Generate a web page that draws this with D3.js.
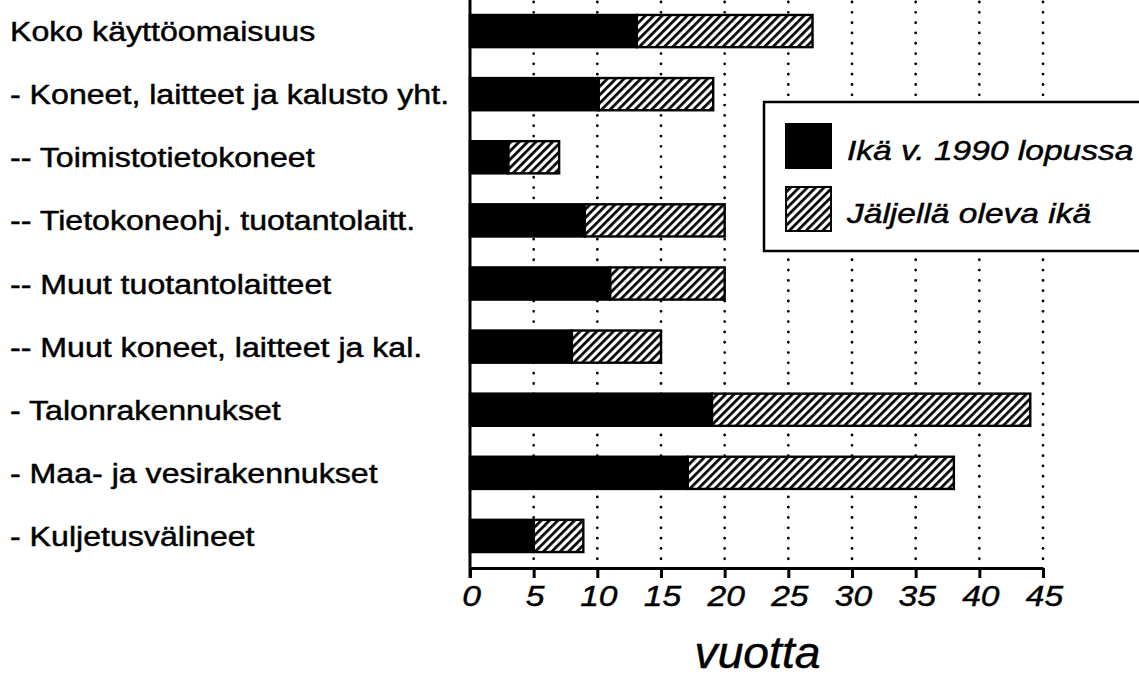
<!DOCTYPE html>
<html>
<head>
<meta charset="utf-8">
<script src="https://cdn.jsdelivr.net/npm/d3@7"></script>
<style>
  html, body { margin: 0; padding: 0; background: #fff; overflow: hidden; }
  svg { display: block; }
  text { font-family: "Liberation Sans", Arial, Helvetica, sans-serif; fill: #000; stroke: #000; stroke-width: 0.45px; }
</style>
</head>
<body>
<svg id="chart" width="1139" height="677"></svg>
<script>
// ---- data ----
const categories = [
  "Koko käyttöomaisuus",
  "- Koneet, laitteet ja kalusto yht.",
  "-- Toimistotietokoneet",
  "-- Tietokoneohj. tuotantolaitt.",
  "-- Muut tuotantolaitteet",
  "-- Muut koneet, laitteet ja kal.",
  "- Talonrakennukset",
  "- Maa- ja vesirakennukset",
  "- Kuljetusvälineet"
];
const ageEnd1990 = [13.1, 10.1, 3.0, 9.0, 11.0, 8.0, 19.0, 17.1, 5.0];
const remainingAge = [13.8, 9.0, 4.0, 11.0, 9.0, 7.0, 25.0, 20.9, 3.9];
const seriesNames = ["Ikä v. 1990 lopussa", "Jäljellä oleva ikä"];
const tickValues = [0, 5, 10, 15, 20, 25, 30, 35, 40, 45];
const axisTitle = "vuotta";

// ---- layout ----
const svg = d3.select("#chart");
const SX = 1.19; // horizontal stretch of the original lettering

const x = d3.scaleLinear().domain([0, 45]).range([470, 1043]);
const y = d3.scaleBand().domain(categories).range([-0.5, 567.5])
  .paddingInner(0.49).paddingOuter(0.245);
const axisY = 568;

// hatch pattern
const defs = svg.append("defs");
const pat = defs.append("pattern")
  .attr("id", "hatch")
  .attr("patternUnits", "userSpaceOnUse")
  .attr("width", 5.9).attr("height", 5.9)
  .attr("patternTransform", "rotate(45)");
pat.append("rect").attr("width", 5.9).attr("height", 5.9).attr("fill", "#fff");
pat.append("line").attr("x1", 1.4).attr("y1", 0).attr("x2", 1.4).attr("y2", 5.9)
  .attr("stroke", "#000").attr("stroke-width", 2.7);

// dotted grid
svg.append("g").selectAll("line")
  .data(tickValues.filter(d => d > 0))
  .join("line")
  .attr("x1", d => x(d)).attr("x2", d => x(d))
  .attr("y1", 2).attr("y2", axisY)
  .attr("stroke", "#000").attr("stroke-width", 2.8)
  .attr("stroke-linecap", "round")
  .attr("stroke-dasharray", "0.01,10.3");

// bars
const rows = categories.map((c, i) => ({ c, a: ageEnd1990[i], r: remainingAge[i] }));
const bars = svg.append("g");
bars.selectAll("rect.hatch")
  .data(rows).join("rect")
  .attr("class", "hatch")
  .attr("x", d => x(d.a))
  .attr("y", d => y(d.c))
  .attr("width", d => x(d.a + d.r) - x(d.a))
  .attr("height", y.bandwidth())
  .attr("fill", "url(#hatch)")
  .attr("stroke", "#000").attr("stroke-width", 2.4);
bars.selectAll("rect.age")
  .data(rows).join("rect")
  .attr("class", "age")
  .attr("x", x(0))
  .attr("y", d => y(d.c))
  .attr("width", d => x(d.a) - x(0))
  .attr("height", y.bandwidth())
  .attr("fill", "#000")
  .attr("stroke", "#000").attr("stroke-width", 2.4);

// category labels
svg.append("g").selectAll("text")
  .data(categories).join("text")
  .attr("transform", d => `translate(10,${y(d) + y.bandwidth() / 2 + 10}) scale(${SX},1)`)
  .attr("font-size", 27)
  .text(d => d);

// x axis
const xAxis = d3.axisBottom(x).tickValues(tickValues).tickSize(10).tickSizeOuter(0).tickFormat(d3.format("d"));
const gx = svg.append("g").attr("transform", `translate(0,${axisY})`).call(xAxis);
gx.select(".domain").attr("stroke", "#000").attr("stroke-width", 3);
gx.selectAll(".tick line").attr("stroke", "#000").attr("stroke-width", 3);
gx.selectAll(".tick text")
  .attr("font-family", "Liberation Sans, Arial, sans-serif")
  .attr("font-style", "italic")
  .attr("font-size", 30)
  .attr("fill", "#000")
  .attr("y", 0).attr("dy", 0)
  .attr("transform", `translate(1,38) scale(1.12,1)`);

// y axis line
svg.append("line")
  .attr("x1", x(0)).attr("x2", x(0))
  .attr("y1", 0).attr("y2", axisY + 10)
  .attr("stroke", "#000").attr("stroke-width", 3);

// axis title
svg.append("text")
  .attr("transform", `translate(${x(22.5) + 1},668) scale(1.05,1)`)
  .attr("text-anchor", "middle")
  .attr("font-style", "italic")
  .attr("font-size", 44)
  .text(axisTitle);

// legend
const lg = svg.append("g");
lg.append("rect").attr("x", 764).attr("y", 102).attr("width", 400).attr("height", 149)
  .attr("fill", "#fff").attr("stroke", "#000").attr("stroke-width", 2.5);
const legendFills = ["#000", "url(#hatch)"];
const legendY = [124, 187];
seriesNames.forEach((n, i) => {
  lg.append("rect").attr("x", 786).attr("y", legendY[i]).attr("width", 45).attr("height", 44)
    .attr("fill", legendFills[i]).attr("stroke", "#000").attr("stroke-width", 2);
  lg.append("text")
    .attr("transform", `translate(847,${legendY[i] + 36}) scale(1.22,1)`)
    .attr("font-style", "italic")
    .attr("font-size", 27.5)
    .text(n);
});
</script>
</body>
</html>
